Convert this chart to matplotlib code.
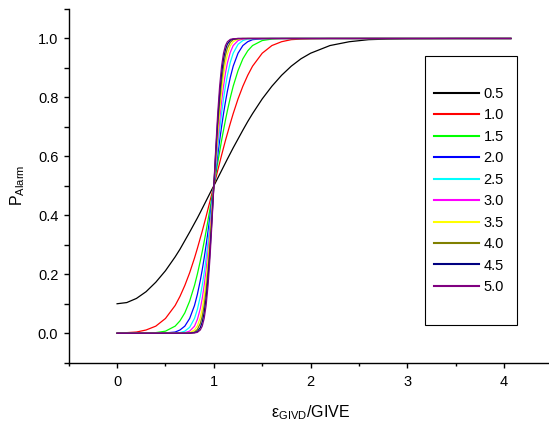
import matplotlib
matplotlib.use("Agg")
import matplotlib.pyplot as plt
from matplotlib.patches import Rectangle
from matplotlib.ticker import MultipleLocator

plt.rcParams['font.family'] = ['Liberation Sans', 'DejaVu Sans']
plt.rcParams['mathtext.fontset'] = 'custom'
plt.rcParams['mathtext.rm'] = 'Liberation Sans'
plt.rcParams['mathtext.it'] = 'Liberation Sans'

# x positions (epsilon_GIVD / GIVE)
x = [0, 0.1, 0.2, 0.3, 0.4, 0.5, 0.6, 0.65, 0.7, 0.75, 0.8, 0.83, 0.86, 0.88, 0.9,
     0.92, 0.94, 0.96, 0.98, 1.0, 1.02, 1.04, 1.06, 1.08, 1.1, 1.12, 1.14, 1.17, 1.2,
     1.25, 1.3, 1.35, 1.4, 1.5, 1.6, 1.7, 1.8, 1.9, 2.0, 2.2, 2.4, 2.6, 2.8, 3.0, 3.5, 4.07]

series_labels = ["0.5", "1.0", "1.5", "2.0", "2.5", "3.0", "3.5", "4.0", "4.5", "5.0"]
series_colors = ["#000000", "#FF0000", "#00FF00", "#0000FF", "#00FFFF",
                 "#FF00FF", "#FFFF00", "#808000", "#000080", "#800080"]

p_05 = [0.100, 0.104, 0.118, 0.141, 0.173, 0.212, 0.259, 0.285, 0.314, 0.343, 0.373, 0.391, 0.410, 0.423, 0.436, 0.449, 0.462, 0.475, 0.488,
        0.500,
        0.513, 0.526, 0.539, 0.552, 0.565, 0.578, 0.591, 0.610, 0.629, 0.659, 0.689, 0.718, 0.745, 0.795, 0.838, 0.875, 0.906, 0.931, 0.950,
        0.976, 0.989, 0.996, 0.998, 0.999, 1.000, 1.000]
p_10 = [0.001, 0.002, 0.004, 0.011, 0.024, 0.050, 0.094, 0.125, 0.162, 0.205, 0.255, 0.288, 0.323, 0.346, 0.371, 0.396, 0.422, 0.448, 0.474,
        0.500,
        0.526, 0.552, 0.578, 0.604, 0.629, 0.654, 0.677, 0.712, 0.745, 0.795, 0.838, 0.875, 0.906, 0.950, 0.976, 0.989, 0.996, 0.998, 0.999,
        1.000, 1.000, 1.000, 1.000, 1.000, 1.000, 1.000]
p_15 = [0.000, 0.000, 0.000, 0.000, 0.002, 0.007, 0.024, 0.042, 0.069, 0.109, 0.162, 0.201, 0.245, 0.277, 0.311, 0.346, 0.384, 0.422, 0.461,
        0.500,
        0.539, 0.578, 0.616, 0.654, 0.689, 0.723, 0.755, 0.799, 0.838, 0.891, 0.931, 0.958, 0.976, 0.993, 0.998, 1.000, 1.000, 1.000, 1.000,
        1.000, 1.000, 1.000, 1.000, 1.000, 1.000, 1.000]
p_20 = [0.000, 0.000, 0.000, 0.000, 0.000, 0.001, 0.004, 0.011, 0.024, 0.050, 0.094, 0.132, 0.179, 0.215, 0.255, 0.299, 0.346, 0.396, 0.448,
        0.500,
        0.552, 0.604, 0.654, 0.701, 0.745, 0.785, 0.821, 0.868, 0.906, 0.950, 0.976, 0.989, 0.996, 0.999, 1.000, 1.000, 1.000, 1.000, 1.000,
        1.000, 1.000, 1.000, 1.000, 1.000, 1.000, 1.000]
p_25 = [0.000, 0.000, 0.000, 0.000, 0.000, 0.000, 0.001, 0.002, 0.007, 0.020, 0.050, 0.081, 0.125, 0.162, 0.205, 0.255, 0.311, 0.371, 0.435,
        0.500,
        0.565, 0.629, 0.689, 0.745, 0.795, 0.838, 0.875, 0.919, 0.950, 0.980, 0.993, 0.998, 0.999, 1.000, 1.000, 1.000, 1.000, 1.000, 1.000,
        1.000, 1.000, 1.000, 1.000, 1.000, 1.000, 1.000]
p_30 = [0.000, 0.000, 0.000, 0.000, 0.000, 0.000, 0.000, 0.000, 0.002, 0.007, 0.024, 0.047, 0.083, 0.118, 0.162, 0.215, 0.277, 0.346, 0.422,
        0.500,
        0.578, 0.654, 0.723, 0.785, 0.838, 0.882, 0.917, 0.953, 0.976, 0.993, 0.998, 1.000, 1.000, 1.000, 1.000, 1.000, 1.000, 1.000, 1.000,
        1.000, 1.000, 1.000, 1.000, 1.000, 1.000, 1.000]
p_35 = [0.000, 0.000, 0.000, 0.000, 0.000, 0.000, 0.000, 0.000, 0.000, 0.002, 0.011, 0.025, 0.053, 0.083, 0.125, 0.179, 0.245, 0.323, 0.409,
        0.500,
        0.591, 0.677, 0.755, 0.821, 0.875, 0.917, 0.947, 0.975, 0.989, 0.998, 1.000, 1.000, 1.000, 1.000, 1.000, 1.000, 1.000, 1.000, 1.000,
        1.000, 1.000, 1.000, 1.000, 1.000, 1.000, 1.000]
p_40 = [0.000, 0.000, 0.000, 0.000, 0.000, 0.000, 0.000, 0.000, 0.000, 0.001, 0.004, 0.013, 0.033, 0.057, 0.094, 0.146, 0.215, 0.299, 0.396,
        0.500,
        0.604, 0.701, 0.785, 0.854, 0.906, 0.943, 0.967, 0.987, 0.996, 0.999, 1.000, 1.000, 1.000, 1.000, 1.000, 1.000, 1.000, 1.000, 1.000,
        1.000, 1.000, 1.000, 1.000, 1.000, 1.000, 1.000]
p_45 = [0.000, 0.000, 0.000, 0.000, 0.000, 0.000, 0.000, 0.000, 0.000, 0.000, 0.002, 0.006, 0.019, 0.038, 0.069, 0.118, 0.187, 0.277, 0.384,
        0.500,
        0.616, 0.723, 0.813, 0.882, 0.931, 0.962, 0.981, 0.994, 0.998, 1.000, 1.000, 1.000, 1.000, 1.000, 1.000, 1.000, 1.000, 1.000, 1.000,
        1.000, 1.000, 1.000, 1.000, 1.000, 1.000, 1.000]
p_50 = [0.000, 0.000, 0.000, 0.000, 0.000, 0.000, 0.000, 0.000, 0.000, 0.000, 0.001, 0.003, 0.011, 0.024, 0.050, 0.094, 0.162, 0.255, 0.371,
        0.500,
        0.629, 0.745, 0.838, 0.906, 0.950, 0.976, 0.989, 0.997, 0.999, 1.000, 1.000, 1.000, 1.000, 1.000, 1.000, 1.000, 1.000, 1.000, 1.000,
        1.000, 1.000, 1.000, 1.000, 1.000, 1.000, 1.000]

series_values = [p_05, p_10, p_15, p_20, p_25, p_30, p_35, p_40, p_45, p_50]
for s in series_values:
    assert len(s) == len(x), len(s)

W, H = 549, 424
fig = plt.figure(figsize=(W / 100, H / 100), dpi=100)
ax = fig.add_axes([68.7 / W, (H - 362.7) / H, (552.5 - 68.7) / W, (362.7 - 9) / H])

lines = []
for vals, lab, col in zip(series_values, series_labels, series_colors):
    ln, = ax.plot(x, vals, color=col, lw=0.9, label=lab)
    lines.append(ln)

ax.set_xlim(-0.5, 4.5)
ax.set_ylim(-0.1, 1.1)
ax.xaxis.set_major_locator(MultipleLocator(1))
ax.xaxis.set_minor_locator(MultipleLocator(0.5))
ax.yaxis.set_major_locator(MultipleLocator(0.2))
ax.yaxis.set_minor_locator(MultipleLocator(0.1))
ax.xaxis.set_major_formatter(matplotlib.ticker.FormatStrFormatter('%d'))
ax.yaxis.set_major_formatter(matplotlib.ticker.FormatStrFormatter('%.1f'))

for side in ('top', 'right'):
    ax.spines[side].set_visible(False)
for side in ('left', 'bottom'):
    ax.spines[side].set_linewidth(1.0)

ax.tick_params(axis='both', which='both', direction='out', width=1.0, labelsize=10.5)
ax.tick_params(axis='x', which='major', length=3.5, pad=5)
ax.tick_params(axis='x', which='minor', length=2.5)
ax.tick_params(axis='y', which='major', length=3.5, pad=4)
ax.tick_params(axis='y', which='minor', length=3.5)

ax.set_xlabel(r'$\mathregular{\varepsilon_{GIVD}}$/GIVE', fontsize=11.5, labelpad=11)
ax.set_ylabel(r'$\mathregular{P_{Alarm}}$', fontsize=11.5, labelpad=8)

# legend box frame
fig.patches.append(Rectangle((425 / W, (H - 325) / H), 92 / W, 269 / H,
                             transform=fig.transFigure, fill=False,
                             edgecolor='black', lw=0.8, zorder=5))
leg = ax.legend(handles=lines, labels=series_labels, loc='upper left',
                bbox_to_anchor=(434 / W, 1 - 87 / H), bbox_transform=fig.transFigure,
                frameon=False, borderpad=0, borderaxespad=0, fontsize=10.5,
                handlelength=3.1, handletextpad=0.3, labelspacing=0.51)
for hl in leg.get_lines():
    hl.set_linewidth(1.5)

fig.savefig('out.png', dpi=100)
